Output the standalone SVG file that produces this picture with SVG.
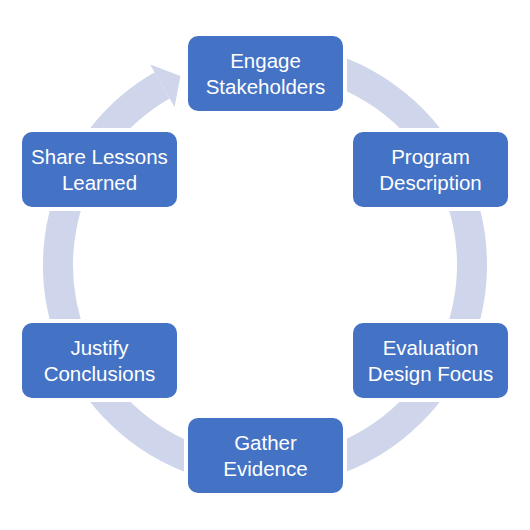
<svg xmlns="http://www.w3.org/2000/svg" width="530" height="530" viewBox="0 0 530 530">
<style>
.box{fill:#4472C4;stroke:#FFFFFF;stroke-width:8;paint-order:stroke}
.lbl{fill:#FFFFFF;font-family:"Liberation Sans",Arial,sans-serif;font-size:20.5px;text-anchor:middle}
.ring{fill:none;stroke:#CFD5EA;stroke-width:30}
.head{fill:#CFD5EA}
</style>
<rect width="530" height="530" fill="#FFFFFF"/>
<g id="connectors">
<path class="ring" d="M300.95,61.14 A207,207 0 1 1 162.13,85.37"/>
<polygon class="head" points="150.2,64.55 180.5,76 174.55,107.07"/>
</g>
<g id="engage">
<rect class="box" x="188" y="36" width="155" height="75" rx="10"/>
<text class="lbl" x="265.5" y="67.5">Engage</text>
<text class="lbl" x="265.5" y="93.5">Stakeholders</text>
</g>
<g id="program">
<rect class="box" x="353" y="132" width="155" height="75" rx="10"/>
<text class="lbl" x="430.5" y="163.5">Program</text>
<text class="lbl" x="430.5" y="189.5">Description</text>
</g>
<g id="evaluation">
<rect class="box" x="353" y="323" width="155" height="75" rx="10"/>
<text class="lbl" x="430.5" y="354.5">Evaluation</text>
<text class="lbl" x="430.5" y="380.5">Design Focus</text>
</g>
<g id="gather">
<rect class="box" x="188" y="418" width="155" height="75" rx="10"/>
<text class="lbl" x="265.5" y="449.5">Gather</text>
<text class="lbl" x="265.5" y="475.5">Evidence</text>
</g>
<g id="justify">
<rect class="box" x="22" y="323" width="155" height="75" rx="10"/>
<text class="lbl" x="99.5" y="354.5">Justify</text>
<text class="lbl" x="99.5" y="380.5">Conclusions</text>
</g>
<g id="share">
<rect class="box" x="22" y="132" width="155" height="75" rx="10"/>
<text class="lbl" x="99.5" y="163.5">Share Lessons</text>
<text class="lbl" x="99.5" y="189.5">Learned</text>
</g>
</svg>
